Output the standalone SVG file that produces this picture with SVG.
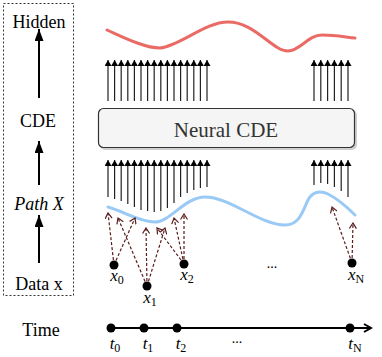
<svg xmlns="http://www.w3.org/2000/svg" width="382" height="357" viewBox="0 0 382 357">
<defs>
<style>
text{font-family:Liberation Serif,Times New Roman,Times,serif}
.lbl{font-size:18px;fill:#000;text-anchor:middle}
.math{font-style:italic;font-size:17px;fill:#000;text-anchor:middle}
.dots{font-size:14px;text-anchor:middle}
.cde{font-size:21px;fill:#333;text-anchor:middle}
.sub{font-size:12px;font-style:normal}
.up{stroke:#222;stroke-width:1.2;fill:none;marker-end:url(#ah)}
.dash{stroke:#5a1c1c;stroke-width:1.2;stroke-dasharray:3 2;fill:none;marker-end:url(#dh)}
.big{stroke:#000;stroke-width:2;fill:none;marker-end:url(#bh)}
.dot{fill:#000}
</style>
<marker id="ah" markerWidth="6" markerHeight="7" refX="6" refY="3.5" orient="auto" markerUnits="userSpaceOnUse"><path d="M0,0 L6,3.5 L0,7 z" fill="#000"/></marker>
<marker id="dh" markerWidth="7" markerHeight="8" refX="6" refY="4" orient="auto" markerUnits="userSpaceOnUse"><path d="M0.5,0.5 L6,4 L0.5,7.5" fill="none" stroke="#5a1c1c" stroke-width="1.2"/></marker>
<marker id="bh" markerWidth="12" markerHeight="9" refX="12" refY="4.5" orient="auto" markerUnits="userSpaceOnUse"><path d="M0,0 L12,4.5 L0,9 z" fill="#000"/></marker>
<marker id="th" markerWidth="10" markerHeight="10" refX="8" refY="5" orient="auto" markerUnits="userSpaceOnUse"><path d="M1,1 L8,5 L1,9" fill="none" stroke="#000" stroke-width="2"/></marker>
</defs>
<rect width="382" height="357" fill="#fff"/>

<g id="legend">
<rect x="3.5" y="3.5" width="70" height="292" fill="none" stroke="#333" stroke-width="1" stroke-dasharray="2 2"/>
<text class="lbl" x="39" y="28" font-family="Liberation Serif, serif">Hidden</text>
<text class="lbl" x="38" y="127" font-family="Liberation Serif, serif">CDE</text>
<text class="lbl" x="39" y="210" font-style="italic" font-family="Liberation Serif, serif">Path X</text>
<text class="lbl" x="39" y="290" font-family="Liberation Serif, serif">Data x</text>
<path class="big" d="M39,98 L39,29"/>
<path class="big" d="M39,185 L39,141"/>
<path class="big" d="M39,263 L39,215"/>
</g>

<g id="hidden-curve">
<path d="M107,30 C125,38 145,48 160,48 C180,46 205,22 228,22 C255,22 272,51 288,51 C300,51 308,35 322,35 C335,35 345,37 355,38" fill="none" stroke="#ea6b66" stroke-width="3" stroke-linecap="round"/>
</g>

<g id="neural-cde">
<rect x="100" y="110" width="257" height="40" rx="5" fill="#cfcfcf"/>
<rect x="98.5" y="108.5" width="256" height="39" rx="5" fill="#f5f5f5" stroke="#333" stroke-width="1.2"/>
<text class="cde" x="226" y="137">Neural CDE</text>
</g>

<g id="path-x">
<path d="M108,207 C125,212 140,222 155,222 C170,222 185,197 205,197 C230,197 260,225 285,225 C300,225 303,210 308,200 C312,192 320,190 328,194 C338,199 348,208 355,215" fill="none" stroke="#99c9f5" stroke-width="3" stroke-linecap="round"/>
</g>

<g id="connectors">
<path class="up" d="M108,101V60"/>
<path class="up" d="M114.6,101V60"/>
<path class="up" d="M121.2,101V60"/>
<path class="up" d="M127.8,101V60"/>
<path class="up" d="M134.4,101V60"/>
<path class="up" d="M141,101V60"/>
<path class="up" d="M147.6,101V60"/>
<path class="up" d="M154.2,101V60"/>
<path class="up" d="M160.8,101V60"/>
<path class="up" d="M167.4,101V60"/>
<path class="up" d="M174,101V60"/>
<path class="up" d="M180.6,101V60"/>
<path class="up" d="M187.2,101V60"/>
<path class="up" d="M193.8,101V60"/>
<path class="up" d="M200.4,101V60"/>
<path class="up" d="M207,101V60"/>
<path class="up" d="M314,101V60"/>
<path class="up" d="M320.8,101V60"/>
<path class="up" d="M327.6,101V60"/>
<path class="up" d="M334.4,101V60"/>
<path class="up" d="M341.2,101V60"/>
<path class="up" d="M348,101V60"/>
<path class="up" d="M108,197V160"/>
<path class="up" d="M114.6,199V160"/>
<path class="up" d="M121.2,201V160"/>
<path class="up" d="M127.8,204V160"/>
<path class="up" d="M134.4,207V160"/>
<path class="up" d="M141,210V160"/>
<path class="up" d="M147.6,211V160"/>
<path class="up" d="M154.2,212V160"/>
<path class="up" d="M160.8,211V160"/>
<path class="up" d="M167.4,208V160"/>
<path class="up" d="M174,203V160"/>
<path class="up" d="M180.6,197V160"/>
<path class="up" d="M187.2,193V160"/>
<path class="up" d="M193.8,190V160"/>
<path class="up" d="M200.4,188V160"/>
<path class="up" d="M207,187V160"/>
<path class="up" d="M314,185V160"/>
<path class="up" d="M320.8,183V160"/>
<path class="up" d="M327.6,184V160"/>
<path class="up" d="M334.4,187V160"/>
<path class="up" d="M341.2,191V160"/>
<path class="up" d="M348,197V160"/>
<path class="dash" d="M114,265L108,213"/>
<path class="dash" d="M114,265L135,218"/>
<path class="dash" d="M147,286L118,218"/>
<path class="dash" d="M147,286L146,228"/>
<path class="dash" d="M147,286L165,228"/>
<path class="dash" d="M184,264L157,228"/>
<path class="dash" d="M184,264L174,218"/>
<path class="dash" d="M184,264L184,214"/>
<path class="dash" d="M352,263L332,207"/>
<path class="dash" d="M352,263L353,223"/>
</g>

<g id="data">
<circle class="dot" cx="114" cy="265" r="4.5"/>
<circle class="dot" cx="147" cy="286" r="4.5"/>
<circle class="dot" cx="184" cy="264" r="4.5"/>
<circle class="dot" cx="352" cy="263" r="4.5"/>
<text class="math" x="117" y="281">x<tspan class="sub" dy="3">0</tspan></text>
<text class="math" x="150" y="303">x<tspan class="sub" dy="3">1</tspan></text>
<text class="math" x="187" y="280">x<tspan class="sub" dy="3">2</tspan></text>
<text class="math" x="356" y="280">x<tspan class="sub" dy="3" font-style="italic">N</tspan></text>
<text class="dots" x="272" y="268">...</text>
</g>

<g id="timeline">
<text class="lbl" x="41" y="336">Time</text>
<path d="M111,328 L371,328" stroke="#000" stroke-width="2" fill="none" marker-end="url(#th)"/>
<circle class="dot" cx="111" cy="328" r="4.5"/>
<circle class="dot" cx="144" cy="328" r="4.5"/>
<circle class="dot" cx="177" cy="328" r="4.5"/>
<circle class="dot" cx="350" cy="328" r="4.5"/>
<text class="math" x="115" y="349">t<tspan class="sub" dy="3">0</tspan></text>
<text class="math" x="148" y="349">t<tspan class="sub" dy="3">1</tspan></text>
<text class="math" x="181" y="349">t<tspan class="sub" dy="3">2</tspan></text>
<text class="math" x="355" y="349">t<tspan class="sub" dy="3" font-style="italic">N</tspan></text>
<text class="dots" x="237" y="343">...</text>
</g>
</svg>
